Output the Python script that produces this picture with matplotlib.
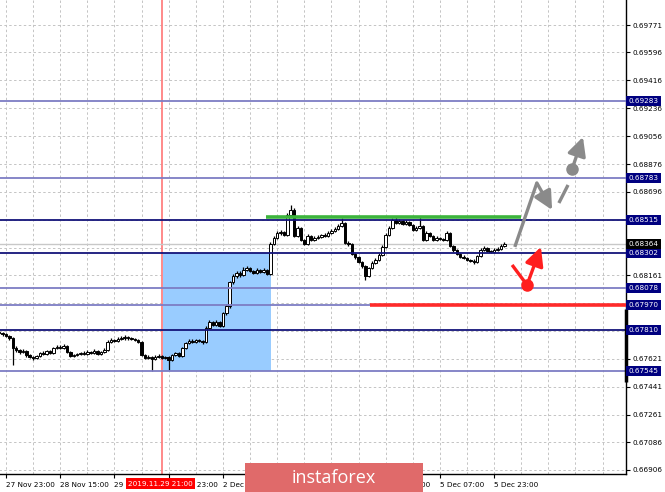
import matplotlib
matplotlib.use("Agg")
import matplotlib.pyplot as plt
import numpy as np
from matplotlib.patches import Rectangle

# H1 candles, bar index 0 = 27 Nov 23:00, first bar shown is index -2
bar_start = -2
first_open = 0.67795
closes = [
    0.67788, 0.67781, 0.67768, 0.67755, 0.67691, 0.67679, 0.67666, 0.67672, 0.67646, 0.67633,
    0.67627, 0.67640, 0.67659, 0.67653, 0.67672, 0.67659, 0.67691, 0.67698, 0.67691, 0.67704,
    0.67666, 0.67640, 0.67646, 0.67653, 0.67659, 0.67653, 0.67666, 0.67659, 0.67672, 0.67653,
    0.67666, 0.67679, 0.67730, 0.67743, 0.67736, 0.67749, 0.67755, 0.67762, 0.67755, 0.67749,
    0.67743, 0.67730, 0.67646, 0.67627, 0.67633, 0.67621, 0.67633, 0.67640, 0.67627, 0.67633,
    0.67614, 0.67646, 0.67659, 0.67640, 0.67691, 0.67723, 0.67736, 0.67730, 0.67743, 0.67736,
    0.67730, 0.67820, 0.67858, 0.67839, 0.67858, 0.67833, 0.67916, 0.67961, 0.68116, 0.68155,
    0.68174, 0.68161, 0.68194, 0.68206, 0.68187, 0.68174, 0.68194, 0.68181, 0.68194, 0.68168,
    0.68361, 0.68400, 0.68432, 0.68438, 0.68419, 0.68547, 0.68580, 0.68413, 0.68464, 0.68387,
    0.68361, 0.68413, 0.68387, 0.68400, 0.68406, 0.68419, 0.68413, 0.68432, 0.68445, 0.68458,
    0.68477, 0.68496, 0.68368, 0.68361, 0.68297, 0.68277, 0.68245, 0.68219, 0.68155, 0.68206,
    0.68239, 0.68258, 0.68290, 0.68342, 0.68419, 0.68464, 0.68515, 0.68496, 0.68509, 0.68490,
    0.68502, 0.68483, 0.68451, 0.68464, 0.68477, 0.68387, 0.68432, 0.68413, 0.68387, 0.68400,
    0.68393, 0.68387, 0.68432, 0.68348, 0.68322, 0.68297, 0.68277, 0.68271, 0.68258, 0.68252,
    0.68245, 0.68284, 0.68322, 0.68335, 0.68316, 0.68310, 0.68322, 0.68329, 0.68348, 0.68364,
]
highs = [
    0.67803, 0.67796, 0.67790, 0.67776, 0.67760, 0.67702, 0.67688, 0.67683, 0.67680, 0.67655,
    0.67641, 0.67649, 0.67668, 0.67670, 0.67680, 0.67678, 0.67700, 0.67712, 0.67708, 0.67714,
    0.67710, 0.67672, 0.67655, 0.67660, 0.67668, 0.67670, 0.67676, 0.67674, 0.67683, 0.67680,
    0.67675, 0.67690, 0.67740, 0.67755, 0.67752, 0.67762, 0.67768, 0.67772, 0.67770, 0.67764,
    0.67758, 0.67750, 0.67736, 0.67655, 0.67645, 0.67642, 0.67644, 0.67650, 0.67648, 0.67642,
    0.67640, 0.67655, 0.67668, 0.67665, 0.67700, 0.67733, 0.67750, 0.67748, 0.67752, 0.67752,
    0.67745, 0.67830, 0.67870, 0.67868, 0.67872, 0.67866, 0.67925, 0.67975, 0.68125, 0.68168,
    0.68188, 0.68185, 0.68210, 0.68222, 0.68215, 0.68195, 0.68205, 0.68202, 0.68206, 0.68200,
    0.68372, 0.68412, 0.68445, 0.68452, 0.68446, 0.68560, 0.68612, 0.68590, 0.68480, 0.68470,
    0.68395, 0.68425, 0.68420, 0.68410, 0.68418, 0.68428, 0.68430, 0.68442, 0.68455, 0.68470,
    0.68490, 0.68530, 0.68505, 0.68380, 0.68370, 0.68305, 0.68285, 0.68252, 0.68228, 0.68215,
    0.68250, 0.68270, 0.68300, 0.68352, 0.68430, 0.68476, 0.68530, 0.68535, 0.68525, 0.68518,
    0.68515, 0.68512, 0.68492, 0.68475, 0.68540, 0.68485, 0.68442, 0.68440, 0.68420, 0.68410,
    0.68408, 0.68402, 0.68442, 0.68440, 0.68355, 0.68330, 0.68305, 0.68288, 0.68280, 0.68266,
    0.68262, 0.68292, 0.68335, 0.68345, 0.68342, 0.68325, 0.68332, 0.68340, 0.68358, 0.68372,
]
lows = [
    0.67779, 0.67770, 0.67760, 0.67742, 0.67582, 0.67668, 0.67655, 0.67657, 0.67636, 0.67624,
    0.67615, 0.67620, 0.67633, 0.67645, 0.67646, 0.67650, 0.67652, 0.67684, 0.67682, 0.67685,
    0.67658, 0.67632, 0.67634, 0.67640, 0.67645, 0.67646, 0.67646, 0.67650, 0.67652, 0.67645,
    0.67646, 0.67660, 0.67672, 0.67722, 0.67728, 0.67730, 0.67740, 0.67746, 0.67746, 0.67740,
    0.67735, 0.67722, 0.67638, 0.67618, 0.67620, 0.67543, 0.67612, 0.67625, 0.67618, 0.67620,
    0.67550, 0.67606, 0.67638, 0.67632, 0.67634, 0.67684, 0.67715, 0.67722, 0.67722, 0.67728,
    0.67720, 0.67722, 0.67812, 0.67830, 0.67832, 0.67825, 0.67826, 0.67905, 0.67952, 0.68105,
    0.68145, 0.68150, 0.68154, 0.68186, 0.68178, 0.68165, 0.68166, 0.68172, 0.68172, 0.68160,
    0.68160, 0.68352, 0.68392, 0.68420, 0.68410, 0.68412, 0.68538, 0.68405, 0.68405, 0.68378,
    0.68352, 0.68352, 0.68378, 0.68380, 0.68392, 0.68398, 0.68405, 0.68405, 0.68425, 0.68436,
    0.68450, 0.68470, 0.68360, 0.68350, 0.68288, 0.68265, 0.68236, 0.68208, 0.68129, 0.68146,
    0.68198, 0.68230, 0.68250, 0.68282, 0.68335, 0.68410, 0.68455, 0.68488, 0.68488, 0.68482,
    0.68482, 0.68475, 0.68442, 0.68442, 0.68455, 0.68378, 0.68380, 0.68405, 0.68378, 0.68380,
    0.68385, 0.68378, 0.68380, 0.68340, 0.68312, 0.68288, 0.68268, 0.68262, 0.68250, 0.68242,
    0.68232, 0.68236, 0.68276, 0.68314, 0.68308, 0.68302, 0.68302, 0.68315, 0.68320, 0.68340,
]
opens = [first_open] + closes[:-1]

# time axis (labels under the banner are not visible in the source)
date_tick_bars = [0, 16, 32, 48, 64, 80, 96, 112, 128, 144]
date_tick_labels = ["27 Nov 23:00", "28 Nov 15:00", "29 Nov 07:00", "29 Nov 23:00",
                    "2 Dec 15:00", "", "", "4 Dec 15:00",
                    "5 Dec 07:00", "5 Dec 23:00"]
cursor_bar = 46
cursor_label = "2019.11.29 21:00"

# price axis
price_grid = [0.69771, 0.69596, 0.69416, 0.69236, 0.69056, 0.68876, 0.68696, 0.68515,
              0.68336, 0.68161, 0.67981, 0.67801, 0.67621, 0.67441, 0.67261, 0.67086, 0.66906]
price_hidden = [0.68515, 0.68336, 0.67981, 0.67801]

levels = [0.69283, 0.68783, 0.68515, 0.68302, 0.68078, 0.67970, 0.67810, 0.67545]
level_dark = [False, False, True, True, False, False, True, False]
current_price = 0.68364

# drawn objects
zone_bars = (46.3, 78.2)
zone_prices = (0.67545, 0.68302)
resistance = 0.68535
resistance_bars = (76.7, 151.9)
support = 0.67970
support_start = 107.4

gray_path_bars = [150.1, 156.6, 161.1]
gray_path_prices = [0.68342, 0.68754, 0.68580]
gray_dash_bars = [163.1, 165.8]
gray_dash_prices = [0.68625, 0.68741]
gray_dot = (167.0, 0.68844)
gray_tip = (170.2, 0.69050)
red_path_bars = [149.3, 153.7]
red_path_prices = [0.68226, 0.68097]
red_tip = (157.8, 0.68342)

NAVY = "#14147a"
LAVENDER = "#7d7dc4"
GRID = "#c4c4c4"
GRAY = "#8a8a8a"
RED = "#ff1f1f"
HEAD = "-|>,head_length=0.8,head_width=0.4"

fig = plt.figure(figsize=(6.65, 4.92), dpi=100)
ax = fig.add_axes((0, 18 / 492, 626 / 665, 474 / 492))
ax.set_xlim(-1.77, 182.9)
ax.set_ylim(0.66880, 0.69932)

# grid
ax.vlines(np.arange(0, 183, 8), 0.66880, 0.69932, colors=GRID, lw=0.7,
          linestyles=(0, (2.5, 2.5)), zorder=0)
ax.hlines(price_grid, -2, 183, colors=GRID, lw=0.7,
          linestyles=(0, (2.5, 2.5)), zorder=0)

# zone and cursor
ax.add_patch(Rectangle((zone_bars[0], zone_prices[0]), zone_bars[1] - zone_bars[0],
                       zone_prices[1] - zone_prices[0], fc="#99ccff", ec="none", zorder=1))
ax.axvline(cursor_bar, color="#ff8080", lw=1.3, zorder=1.5)

# candles
x = np.arange(len(closes)) + bar_start
o = np.array(opens)
c = np.array(closes)
up = c >= o
body = np.maximum(np.abs(c - o), 0.000015)
ax.vlines(x, lows, highs, colors="black", lw=0.9, zorder=2)
ax.bar(x, body, bottom=np.minimum(o, c), width=0.74,
       color=np.where(up, "white", "black"), edgecolor="black", lw=0.7, zorder=2.1)

# horizontal levels
ax.axhline(current_price, color="#c8c8c8", lw=1.0, zorder=1.8)
for p, dark in zip(levels, level_dark):
    ax.axhline(p, color=NAVY if dark else LAVENDER, lw=1.3, zorder=3)
ax.hlines(resistance, *resistance_bars, colors="#3cb43c", lw=2.6, zorder=3.2)
ax.hlines(support, support_start, 182.9, colors="#ff2a2a", lw=2.6, zorder=3.2)

# forecast arrows
arrow_kw = dict(lw=2.4, shrinkA=0, shrinkB=0, mutation_scale=14)
ax.plot(gray_path_bars[:2], gray_path_prices[:2], color=GRAY, lw=2.4,
        solid_capstyle="butt", zorder=4)
ax.annotate("", xy=(gray_path_bars[2], gray_path_prices[2]),
            xytext=(gray_path_bars[1], gray_path_prices[1]),
            arrowprops=dict(arrowstyle=HEAD, color=GRAY, **arrow_kw), zorder=4)
ax.plot(gray_dash_bars, gray_dash_prices, color=GRAY, lw=2.4,
        solid_capstyle="butt", zorder=4)
ax.plot(*gray_dot, "o", color=GRAY, ms=8, zorder=4)
ax.annotate("", xy=gray_tip, xytext=gray_dot,
            arrowprops=dict(arrowstyle=HEAD, color=GRAY, **arrow_kw), zorder=4)
ax.plot(red_path_bars, red_path_prices, color=RED, lw=2.4,
        solid_capstyle="butt", zorder=4)
ax.plot(red_path_bars[1], red_path_prices[1], "o", color=RED, ms=8, zorder=4)
ax.annotate("", xy=red_tip, xytext=(red_path_bars[1], red_path_prices[1]),
            arrowprops=dict(arrowstyle=HEAD, color=RED, **arrow_kw), zorder=4)

# axes frame and ticks
for side in ("left", "top"):
    ax.spines[side].set_visible(False)
for side in ("right", "bottom"):
    ax.spines[side].set_color("black")
    ax.spines[side].set_linewidth(1.0)
ax.vlines(182.9, 0.67943, 0.67473, colors="black", lw=2.5, zorder=5, clip_on=False)

ax.yaxis.tick_right()
ax.set_yticks(price_grid)
ax.set_yticklabels(["" if p in price_hidden else f"{p:.5f}" for p in price_grid])
ax.set_xticks(date_tick_bars)
ax.set_xticklabels(date_tick_labels)
for lbl in ax.get_xticklabels():
    lbl.set_horizontalalignment("left")
ax.tick_params(axis="both", length=3, width=0.8, labelsize=5.2, pad=1.5,
               color="black", labelcolor="black")
ax.tick_params(axis="x", pad=2.5)

ytr = ax.get_yaxis_transform()
for p in levels:
    ax.text(1.004, p, f"{p:.5f}", transform=ytr, ha="left", va="center",
            fontsize=5.2, color="white", clip_on=False, zorder=6,
            bbox=dict(boxstyle="square,pad=0.28", fc="#000080", ec="none"))
ax.text(1.004, current_price, f"{current_price:.5f}", transform=ytr, ha="left",
        va="center", fontsize=5.2, color="white", clip_on=False, zorder=6,
        bbox=dict(boxstyle="square,pad=0.28", fc="black", ec="none"))

xtr = ax.get_xaxis_transform()
ax.text(cursor_bar - 0.4, -0.014, cursor_label, transform=xtr, ha="center", va="top",
        fontsize=5.2, color="white", clip_on=False, zorder=6,
        bbox=dict(boxstyle="square,pad=0.3", fc="#ff0000", ec="none"))

# watermark banner
fig.patches.append(Rectangle((245 / 665, 0), 178 / 665, 29 / 492, fc="#e06a6a",
                             ec="none", transform=fig.transFigure, zorder=10))
fig.text(334 / 665, 14 / 492, "instaforex", ha="center", va="center", fontsize=13,
         family="Open Sans", color="white", zorder=11)

fig.savefig("out.png", dpi=100, facecolor="white")
